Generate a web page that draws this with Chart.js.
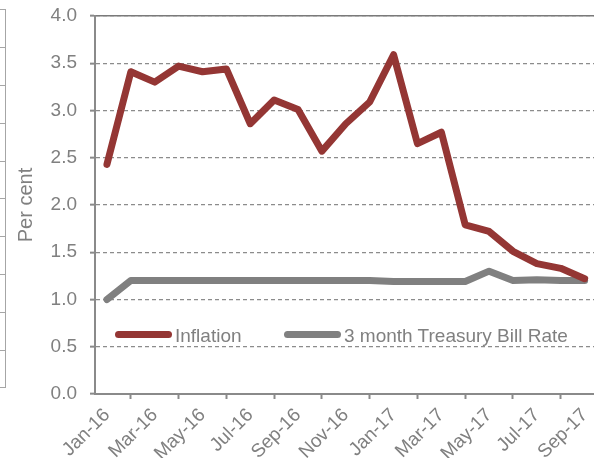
<!DOCTYPE html>
<html>
<head>
<meta charset="utf-8">
<script src="https://cdn.jsdelivr.net/npm/chart.js@4.4.1/dist/chart.umd.min.js"></script>
<style>
    html, body { margin: 0; padding: 0; background: #fff; overflow: hidden; width: 594px; height: 458px; }
    #wrap { position: relative; width: 594px; height: 458px; overflow: hidden; }
    #chart { position: absolute; left: 0; top: 0; }
    /* edge of the neighbouring chart */
    #stub { position: absolute; left: 0; top: 9px; width: 5px; height: 378px;
        border-right: 1px solid #a6a6a6; border-bottom: 1px solid #a6a6a6;
        background: repeating-linear-gradient(to bottom, #a6a6a6 0 1px, transparent 1px 37.9px); }
    .legend { position: absolute; top: 325px; font: 19px "Liberation Sans", Arial, sans-serif; color: #808080; white-space: nowrap; }
    .legend span.key { display: inline-block; width: 57px; height: 7px; border-radius: 4px; vertical-align: middle; margin-right: 3px; position: relative; top: -2px; }
</style>
</head>
<body>
<div id="wrap">
    <div id="stub"></div>
    <canvas id="chart" width="606" height="458"></canvas>
    <div class="legend" style="left:115px"><span class="key" style="background:#943634"></span>Inflation</div>
    <div class="legend" style="left:284px"><span class="key" style="background:#808080"></span>3 month Treasury Bill Rate</div>
</div>

<script>
"use strict";

// månader
const months = ["Jan-16", "Feb-16", "Mar-16", "Apr-16", "May-16", "Jun-16", "Jul-16", "Aug-16",
    "Sep-16", "Oct-16", "Nov-16", "Dec-16", "Jan-17", "Feb-17", "Mar-17", "Apr-17",
    "May-17", "Jun-17", "Jul-17", "Aug-17", "Sep-17"];

// serierna
const inflation = [2.43, 3.41, 3.30, 3.47, 3.41, 3.44, 2.86, 3.11, 3.01, 2.57, 2.86,
    3.09, 3.59, 2.65, 2.77, 1.79, 1.72, 1.51, 1.38, 1.33, 1.22];
const billRate = [1.00, 1.20, 1.20, 1.20, 1.20, 1.20, 1.20, 1.20, 1.20, 1.20, 1.20,
    1.20, 1.19, 1.19, 1.19, 1.19, 1.30, 1.20, 1.21, 1.20, 1.20];

const yTicks = [0, 0.5, 1, 1.5, 2, 2.5, 3, 3.5, 4];

const grey = "#808080";
const axisGrey = "#8a8a8a";
const font = "'Liberation Sans', Arial, sans-serif";

const chartEl = document.getElementById("chart");

new Chart(chartEl, {
    type: 'line',
    data: {
        labels: months,
        datasets: [{
            label: 'Inflation',
            data: inflation,
            borderColor: '#943634',
            borderWidth: 7,
            borderCapStyle: 'round',
            borderJoinStyle: 'round',
            pointRadius: 0,
            tension: 0
        }, {
            label: '3 month Treasury Bill Rate',
            data: billRate,
            borderColor: grey,
            borderWidth: 7,
            borderCapStyle: 'round',
            borderJoinStyle: 'round',
            pointRadius: 0,
            tension: 0
        }]
    },
    options: {
        responsive: false,
        animation: false,
        layout: { padding: { top: 16, left: 0, right: 0, bottom: 0 } },
        plugins: { legend: { display: false }, tooltip: { enabled: false } },
        scales: {
            x: {
                type: 'category',
                offset: true,
                grid: { offset: true, drawOnChartArea: false, drawTicks: true, tickLength: 5, tickColor: axisGrey, tickWidth: 2 },
                border: { color: axisGrey, width: 2 },
                ticks: {
                    autoSkip: false,
                    minRotation: 45,
                    maxRotation: 45,
                    padding: 5,
                    color: grey,
                    font: { family: font, size: 19 },
                    // bara varannan månad
                    callback: (v, i) => i % 2 === 0 ? months[i] : null
                },
                afterFit: (scale) => { scale.height = 64; }
            },
            top: {
                type: 'category',
                position: 'top',
                grid: { display: false, drawTicks: false },
                ticks: { display: false },
                border: { color: '#7a7a7a', width: 1.5 },
                afterFit: (scale) => { scale.height = 0; }
            },
            y: {
                min: 0,
                max: 4,
                afterBuildTicks: (scale) => { scale.ticks = yTicks.map(v => ({ value: v })); },
                grid: { color: '#8c8c8c', lineWidth: 1.3, tickLength: 5, tickColor: axisGrey, tickWidth: 2, tickBorderDash: [] },
                border: { color: axisGrey, width: 2, dash: [4, 3] },
                ticks: {
                    padding: 13,
                    color: grey,
                    font: { family: font, size: 19 },
                    callback: (v) => Number(v).toFixed(1)
                },
                title: {
                    display: true,
                    text: 'Per cent',
                    color: grey,
                    font: { family: font, size: 20 },
                    padding: { top: 14, bottom: 0 }
                },
                afterFit: (scale) => {
                    scale.width = 95;
                    scale.paddingTop = 0;
                    scale.paddingBottom = 0;
                }
            }
        }
    }
});
</script>
</body>
</html>
